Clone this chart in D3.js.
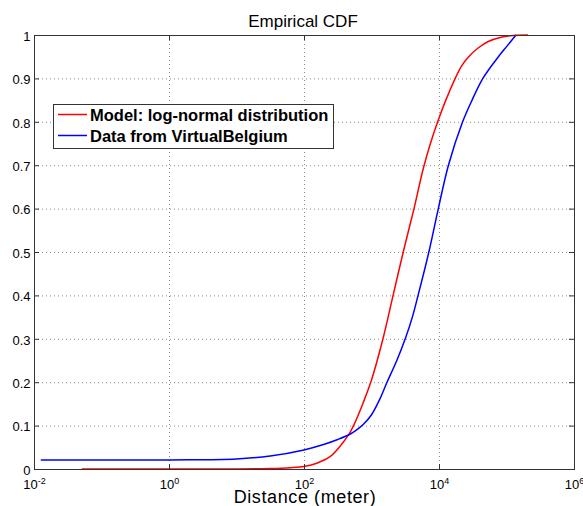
<!DOCTYPE html>
<html>
<head>
<meta charset="utf-8">
<script src="https://cdn.jsdelivr.net/npm/d3@7"></script>
<style>
  body { margin: 0; background: #fff; }
  text { font-family: "Liberation Sans", Arial, Helvetica, sans-serif; }
</style>
</head>
<body>
<div id="chart"></div>
<script>
// model curve (log-normal fit), distance in meters
var modelDist = [0.051, 10, 31.6, 63, 100, 158, 245, 340, 479, 550, 741, 1000, 1479, 2089, 2951, 4266, 6026, 9550, 17380, 21880, 27540, 38020, 53700, 83180, 125900, 208900];
var modelCdf  = [0, 0, 0.001, 0.003, 0.006, 0.014, 0.029, 0.052, 0.084, 0.102, 0.15, 0.205, 0.3, 0.4, 0.5, 0.6, 0.7, 0.8, 0.9, 0.93, 0.95, 0.97, 0.985, 0.995, 0.999, 1];

// empirical data from VirtualBelgium
var dataDist = [0.0126, 1, 10, 31.6, 100, 200, 316, 479, 603, 759, 1000, 1318, 1698, 2371, 3162, 4027, 4898, 7079, 9772, 13800, 22390, 30900, 44670, 75860, 102300, 138000];
var dataCdf  = [0.021, 0.021, 0.023, 0.03, 0.044, 0.057, 0.068, 0.08, 0.09, 0.103, 0.125, 0.16, 0.2, 0.25, 0.3, 0.35, 0.4, 0.5, 0.6, 0.7, 0.8, 0.85, 0.9, 0.95, 0.975, 1];

var xTicks = [1e-2, 1e0, 1e2, 1e4, 1e6];
var yTicks = [0, 0.1, 0.2, 0.3, 0.4, 0.5, 0.6, 0.7, 0.8, 0.9, 1];
var seriesNames = ["Model: log-normal distribution", "Data from VirtualBelgium"];
var seriesColors = ["#ff0000", "#0000ff"];

var width = 583, height = 506;
var plotLeft = 34, plotRight = 574, plotTop = 35, plotBottom = 469;

var svg = d3.select("#chart").append("svg")
    .attr("width", width)
    .attr("height", height);

svg.append("rect").attr("width", width).attr("height", height).attr("fill", "#fff");

var x = d3.scaleLog().domain([1e-2, 1e6]).range([plotLeft, plotRight]);
var y = d3.scaleLinear().domain([0, 1]).range([plotBottom, plotTop]);

//
// grid
//
svg.append("g")
    .attr("transform", "translate(0," + plotBottom + ")")
    .call(d3.axisBottom(x).tickValues(xTicks.slice(1, -1)).tickSize(-(plotBottom - plotTop)).tickFormat(""))
    .call(function(g) { g.select(".domain").remove(); })
    .selectAll("line")
    .attr("stroke", "#888").attr("stroke-dasharray", "1,3");

svg.append("g")
    .attr("transform", "translate(" + plotLeft + ",0)")
    .call(d3.axisLeft(y).tickValues(yTicks.slice(1, -1)).tickSize(-(plotRight - plotLeft)).tickFormat(""))
    .call(function(g) { g.select(".domain").remove(); })
    .selectAll("line")
    .attr("stroke", "#888").attr("stroke-dasharray", "1,3");

//
// curves
//
var line = d3.line()
    .x(function(d) { return x(d[0]); })
    .y(function(d) { return y(d[1]); })
    .curve(d3.curveCatmullRom.alpha(0.5));

var series = [
    d3.zip(modelDist, modelCdf),
    d3.zip(dataDist, dataCdf)
];

series.forEach(function(s, i) {
    svg.append("path")
        .datum(s)
        .attr("fill", "none")
        .attr("stroke", seriesColors[i])
        .attr("stroke-width", 1.5)
        .attr("d", line);
});

//
// axes box and ticks
//
svg.append("rect")
    .attr("x", plotLeft + 0.5).attr("y", plotTop + 0.5)
    .attr("width", plotRight - plotLeft).attr("height", plotBottom - plotTop)
    .attr("fill", "none").attr("stroke", "#333");

var xAxis = svg.append("g")
    .attr("transform", "translate(0," + plotBottom + ")")
    .call(d3.axisBottom(x).tickValues(xTicks).tickSizeInner(-5).tickSizeOuter(0).tickPadding(11)
        .tickFormat(function() { return ""; }));
xAxis.select(".domain").remove();
xAxis.selectAll("line").attr("stroke", "#333");
xAxis.selectAll("text")
    .attr("fill", "#000")
    .style("font-size", "13px")
    .each(function(d) {
        var t = d3.select(this);
        t.append("tspan").text("10");
        t.append("tspan").attr("dy", "-0.55em").style("font-size", "9px").text(Math.round(Math.log10(d)));
    });

svg.append("g")
    .attr("transform", "translate(0," + plotTop + ")")
    .call(d3.axisTop(x).tickValues(xTicks).tickSizeInner(-5).tickSizeOuter(0).tickFormat(""))
    .call(function(g) { g.select(".domain").remove(); g.selectAll("line").attr("stroke", "#333"); });

var yAxis = svg.append("g")
    .attr("transform", "translate(" + plotLeft + ",0)")
    .call(d3.axisLeft(y).tickValues(yTicks).tickSizeInner(-5).tickSizeOuter(0).tickPadding(3.5)
        .tickFormat(function(d) { return d3.format("")(d); }));
yAxis.select(".domain").remove();
yAxis.selectAll("line").attr("stroke", "#333");
yAxis.selectAll("text")
    .attr("fill", "#000")
    .attr("dy", "0.4em")
    .style("font-size", "13px");

svg.append("g")
    .attr("transform", "translate(" + plotRight + ",0)")
    .call(d3.axisRight(y).tickValues(yTicks).tickSizeInner(-5).tickSizeOuter(0).tickFormat(""))
    .call(function(g) { g.select(".domain").remove(); g.selectAll("line").attr("stroke", "#333"); });

//
// titles
//
svg.append("text")
    .attr("x", 303).attr("y", 27)
    .attr("text-anchor", "middle")
    .style("font-size", "17px")
    .text("Empirical CDF");

svg.append("text")
    .attr("x", 305).attr("y", 503)
    .attr("text-anchor", "middle")
    .style("font-size", "18px")
    .style("letter-spacing", "0.6px")
    .text("Distance (meter)");

//
// legend
//
var legend = svg.append("g");
legend.append("rect")
    .attr("x", 53.5).attr("y", 104.5)
    .attr("width", 280).attr("height", 44)
    .attr("fill", "#fff").attr("stroke", "#333");

seriesNames.forEach(function(name, i) {
    var ly = 114.5 + i * 21;
    legend.append("line")
        .attr("x1", 58).attr("x2", 87)
        .attr("y1", ly).attr("y2", ly)
        .attr("stroke", seriesColors[i]).attr("stroke-width", 1.5);
    legend.append("text")
        .attr("x", 90).attr("y", ly + 6)
        .style("font-size", "16.5px")
        .style("font-weight", "bold")
        .text(name);
});
</script>
</body>
</html>
